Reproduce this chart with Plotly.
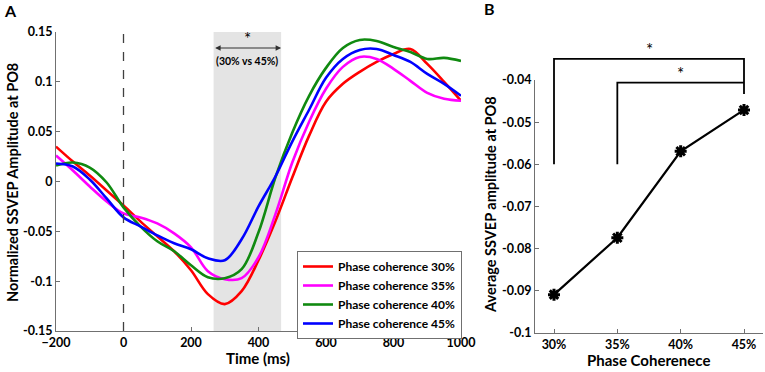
import plotly.graph_objects as go

# ---------------- Data ----------------
time_ms = [-200, -150, -100, -50, 0, 50, 100, 150, 200, 250, 300, 350, 400,
           450, 500, 550, 600, 650, 700, 750, 800, 850, 900, 950, 1000]

pc30 = [0.035, 0.020, 0.006, -0.009, -0.024, -0.040, -0.055, -0.070, -0.089,
        -0.113, -0.123, -0.110, -0.079, -0.040, 0.004, 0.046, 0.080, 0.098,
        0.110, 0.120, 0.128, 0.133, 0.118, 0.100, 0.081]
pc35 = [0.026, 0.011, -0.005, -0.020, -0.032, -0.036, -0.042, -0.052, -0.066,
        -0.090, -0.098, -0.097, -0.076, -0.033, 0.019, 0.060, 0.093, 0.115,
        0.125, 0.123, 0.113, 0.101, 0.089, 0.083, 0.081]
pc40 = [0.016, 0.019, 0.014, -0.001, -0.026, -0.045, -0.060, -0.070, -0.084,
        -0.096, -0.097, -0.088, -0.051, 0.004, 0.049, 0.086, 0.114, 0.134,
        0.142, 0.141, 0.135, 0.130, 0.123, 0.124, 0.121]
pc45 = [0.018, 0.015, 0.002, -0.017, -0.036, -0.045, -0.054, -0.062, -0.068,
        -0.077, -0.079, -0.058, -0.025, 0.005, 0.040, 0.072, 0.104, 0.123,
        0.132, 0.133, 0.127, 0.120, 0.108, 0.098, 0.086]

series_names = ["Phase coherence 30%", "Phase coherence 35%",
                "Phase coherence 40%", "Phase coherence 45%"]
series_colors = ["#ff0000", "#ff00ff", "#108a10", "#0000ff"]

sig_window = [267, 467]          # ms, shaded significant window
sig_label = "(30% vs 45%)"

a_xticks = [-200, 0, 200, 400, 600, 800, 1000]
a_yticks = [-0.15, -0.1, -0.05, 0, 0.05, 0.1, 0.15]
a_yticklabels = ["-0.15", "-0.1", "-0.05", "0", "0.05", "0.1", "0.15"]

coh_pos = [1, 2, 3, 4]
coh_labels = ["30%", "35%", "40%", "45%"]
avg_amp = [-0.0909, -0.0774, -0.0569, -0.0471]

b_yticks = [-0.1, -0.09, -0.08, -0.07, -0.06, -0.05, -0.04]
b_yticklabels = ["-0.1", "-0.09", "-0.08", "-0.07", "-0.06", "-0.05", "-0.04"]

# significance brackets: (left x, right x, top level, bottom of left leg, bottom of right leg, label x)
brackets = [(1, 4, -0.035, -0.06, -0.0433, 2.5),
            (2, 4, -0.0406, -0.06, -0.0406, 3.0)]

# ---------------- Layout helpers ----------------
W, H = 765, 372
FONT = "Lato"
AX_COLOR = "#707070"


def px_x(p):
    return p / W


def px_y(p):
    return 1 - p / H


a_xrange = [-200, 1000]
a_yrange = [-0.15, 0.15]
b_xrange = [0.7, 4.3]
b_yrange = [-0.1, -0.04]

fig = go.Figure()

for name, vals, col in zip(series_names, [pc30, pc35, pc40, pc45], series_colors):
    fig.add_trace(go.Scatter(x=time_ms, y=vals, mode="lines", name=name,
                             line=dict(color=col, width=2.6, shape="spline", smoothing=1.0),
                             xaxis="x", yaxis="y", hoverinfo="skip"))

fig.add_trace(go.Scatter(x=coh_pos, y=avg_amp, mode="lines+markers", showlegend=False,
                         line=dict(color="black", width=2.2),
                         marker=dict(symbol="asterisk-open", size=10,
                                     line=dict(color="black", width=3)),
                         xaxis="x2", yaxis="y2", hoverinfo="skip"))

shapes = []
shapes.append(dict(type="rect", xref="x", yref="y domain", x0=sig_window[0], x1=sig_window[1],
                   y0=0, y1=1, fillcolor="#e4e4e4", line=dict(width=0), layer="below"))
shapes.append(dict(type="line", xref="x", yref="y domain", x0=0, x1=0, y0=0, y1=1,
                   line=dict(color="#404040", width=1.3, dash="dash")))


def b_dom(v):
    return (v - b_yrange[0]) / (b_yrange[1] - b_yrange[0])


annotations = []
for (xl, xr, top, leg, rleg, lx) in brackets:
    shapes.append(dict(type="path", xref="x2", yref="y2 domain",
                       path=f"M {xl},{b_dom(leg)} L {xl},{b_dom(top)} L {xr},{b_dom(top)} L {xr},{b_dom(rleg)}",
                       line=dict(color="black", width=1.8)))
    annotations.append(dict(x=lx, y=b_dom(top), xref="x2", yref="y2 domain", text="*",
                            showarrow=False, xanchor="center", yanchor="bottom", yshift=-3,
                            font=dict(family=FONT, size=17, color="black")))

annotations.append(dict(x=sig_window[1], y=0.134, ax=sig_window[0], ay=0.134,
                        xref="x", yref="y", axref="x", ayref="y", text="",
                        showarrow=True, arrowhead=2, startarrowhead=2, arrowside="end+start",
                        arrowsize=1, arrowwidth=1.1, arrowcolor="#303030"))
annotations.append(dict(x=sum(sig_window) / 2, y=0.134, xref="x", yref="y", text="*",
                        showarrow=False, xanchor="center", yanchor="bottom", yshift=-3,
                        font=dict(family=FONT, size=17, color="black")))
annotations.append(dict(x=sum(sig_window) / 2, y=0.121, xref="x", yref="y", text=sig_label,
                        showarrow=False, xanchor="center", yanchor="middle",
                        font=dict(family=FONT, size=10.5, color="black", weight="bold")))


def label(x, y, text, size, angle=0):
    return dict(x=px_x(x), y=px_y(y), xref="paper", yref="paper", text=text,
                textangle=angle, showarrow=False, xanchor="center", yanchor="middle",
                font=dict(family=FONT, size=size, color="black", weight="bold"))


annotations += [
    label(12, 183, "Normalized SSVEP Amplitude at PO8", 14.5, -90),
    label(258, 358, "Time (ms)", 15),
    label(491, 205, "Average SSVEP amplitude at PO8", 14.5, -90),
    label(648, 360, "Phase Coherenece", 15),
    label(10, 11, "A", 16),
    label(490, 9, "B", 16),
]

tickfont = dict(family=FONT, size=12.5, color="black", weight="bold")
axis_common = dict(showgrid=False, zeroline=False, showline=True, linecolor=AX_COLOR,
                   linewidth=1, ticks="inside", ticklen=4, tickcolor=AX_COLOR,
                   tickfont=tickfont, fixedrange=True, automargin=False)

fig.update_layout(
    width=W, height=H,
    margin=dict(l=0, r=0, t=0, b=0, autoexpand=False),
    paper_bgcolor="white", plot_bgcolor="white",
    font=dict(family=FONT, color="black"),
    xaxis=dict(domain=[px_x(56), px_x(461)], range=a_xrange, tickvals=a_xticks,
               anchor="y", **axis_common),
    yaxis=dict(domain=[px_y(331), px_y(32)], range=a_yrange, tickvals=a_yticks,
               ticktext=a_yticklabels, anchor="x", **axis_common),
    xaxis2=dict(domain=[px_x(535), px_x(763)], range=b_xrange, tickvals=coh_pos,
                ticktext=coh_labels, anchor="y2", **axis_common),
    yaxis2=dict(domain=[px_y(333), px_y(80)], range=b_yrange, tickvals=b_yticks,
                ticktext=b_yticklabels, anchor="x2", **axis_common),
    legend=dict(x=px_x(297), y=px_y(251), xanchor="left", yanchor="top",
                bgcolor="white", bordercolor=AX_COLOR, borderwidth=1,
                font=dict(family=FONT, size=12, color="black", weight="bold"),
                tracegroupgap=0, itemwidth=30),
    shapes=shapes,
    annotations=annotations,
    showlegend=True,
    hovermode=False,
)

# remove the browser's default 8px body margin so the figure fills the window
fig.write_html("out.html", config={"displayModeBar": False, "staticPlot": True},
               post_script="document.body.style.margin='0';document.body.style.overflow='hidden';")
